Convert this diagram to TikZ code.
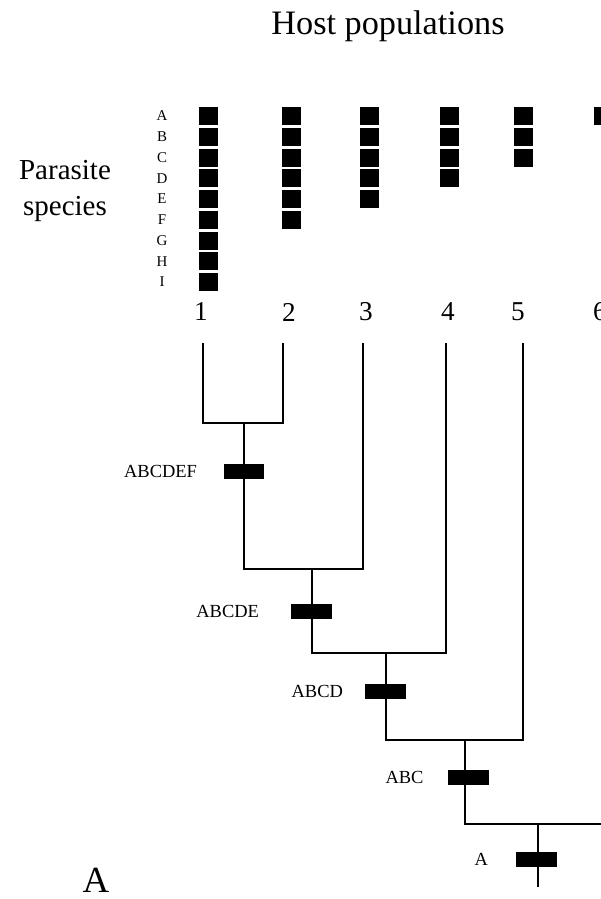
\documentclass[tikz,border=0pt]{standalone}
\usepackage{fontspec}
\setmainfont{Liberation Serif}
\usetikzlibrary{positioning}

\tikzset{
  bar/.style={fill=black, inner sep=0pt, minimum width=0.82cm, minimum height=0.3cm},
  lab/.style={font=\fontsize{10.5}{12}\selectfont, inner sep=0pt},
  host/.style={font=\fontsize{15.5}{18}\selectfont, inner sep=0pt}
}

\begin{document}
\begin{tikzpicture}[x=0.02cm, y=-0.02cm, line width=0.9pt]

	\useasboundingbox (0,0) rectangle (601,899);
	\clip (0,0) rectangle (601,899);

	% titles
	\node[font=\fontsize{19.5}{22}\selectfont] (title) at (388,26) {Host populations};
	\node[font=\fontsize{16.5}{20}\selectfont, align=center] (para) at (65,191) {Parasite\\species};
	\node[font=\fontsize{21}{24}\selectfont] (panel) at (96,880) {A};

	% parasite species present in each host population
	\foreach \x/\n in {199/9,282/6,360/5,440/4,514/3,594/1}
		\foreach \k in {1,...,\n}
			\fill (\x,{107+(\k-1)*20.75}) rectangle ++(19,18);

	\foreach \l [count=\i] in {A,B,C,D,E,F,G,H,I}
		\node[font=\fontsize{8.5}{9}\selectfont, inner sep=0pt] (sp\i) at (162,{116+(\i-1)*20.75}) {\l};

	\foreach \i/\x in {1/201,2/289,3/366,4/448,5/518,6/600}
		\node[host] (h\i) at (\x,312) {\i};

	% host tree
	\coordinate (t1) at (203,343);
	\coordinate (t2) at (283,343);
	\coordinate (t3) at (363,343);
	\coordinate (t4) at (446,343);
	\coordinate (t5) at (523,343);
	\coordinate (t6) at (640,343);

	\coordinate (n12) at (244,423);
	\coordinate (n123) at (312,569);
	\coordinate (n1234) at (386,653);
	\coordinate (n12345) at (465,740);
	\coordinate (root) at (538,824);
	\coordinate (base) at (538,887);

	\draw (t1) |- (n12) -| (t2);
	\draw (n12) |- (n123) -| (t3);
	\draw (n123) |- (n1234) -| (t4);
	\draw (n1234) |- (n12345) -| (t5);
	\draw (n12345) |- (root) -| (t6);
	\draw (root) -- (base);

	% parasite lineages on the branches
	\node[bar] (b6) at (244,471) {};
	\node[bar] (b5) at (311,611) {};
	\node[bar] (b4) at (385,691) {};
	\node[bar] (b3) at (468,777) {};
	\node[bar] (b1) at (536,859) {};

	\node[lab, left=0.5cm of b6] {ABCDEF};
	\node[lab, left=0.6cm of b5] {ABCDE};
	\node[lab, left=0.4cm of b4] {ABCD};
	\node[lab, left=0.45cm of b3] {ABC};
	\node[lab, left=0.52cm of b1] {A};

\end{tikzpicture}
\end{document}
